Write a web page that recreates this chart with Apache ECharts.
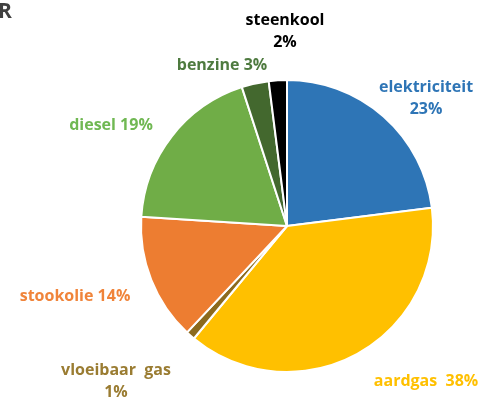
<!DOCTYPE html>
<html>
<head>
<meta charset="utf-8">
<script src="https://cdn.jsdelivr.net/npm/echarts@6/dist/echarts.min.js"></script>
<style>
  html, body { margin: 0; padding: 0; background: #fff; }
  #chart { width: 486px; height: 403px; }
</style>
</head>
<body>
<div id="chart"></div>
<script>
// energiebronnen, procent
const names = ['elektriciteit', 'aardgas', 'vloeibaar  gas', 'stookolie', 'diesel', 'benzine', 'steenkool'];
const values = [23, 38, 1, 14, 19, 3, 2];

// kleuren van de segmenten en de labels
const colors = ['#2E75B6', '#FFC000', '#8C6A1E', '#ED7D31', '#70AD47', '#43682E', '#000000'];
const labelColors = ['#2E75B6', '#FFC000', '#9A7C32', '#F0843A', '#70B853', '#4E7A3F', '#000000'];
// tekstvorm van het label: 0 = twee regels, 1 = één spatie, 2 = twee spaties
const labelForm = [0, 2, 0, 1, 1, 1, 0];

// handmatig geplaatste labels (midden van het tekstblok), zoals in Excel
const labelSpots = [[426, 98], [426, 381], [116, 381], [75, 296], [111, 125], [222, 65], [285, 31]];

const chart = echarts.init(document.getElementById('chart'));

const formats = ['{b}\n{d}%', '{b} {d}%', '{b}  {d}%'];
const data = names.map(function (n, i) {
    return {
        name: n,
        value: values[i],
        itemStyle: { color: colors[i] },
        label: {
            color: labelColors[i],
            formatter: formats[labelForm[i]]
        }
    };
});

chart.setOption({
    animation: false,
    graphic: [{
        type: 'text',
        left: -2,
        top: 2,
        style: { text: 'R', font: 'bold 21px "Open Sans", sans-serif', fill: '#404040' }
    }],
    series: [{
        type: 'pie',
        center: [287, 226],
        radius: 146,
        startAngle: 90,
        clockwise: true,
        avoidLabelOverlap: false,
        data: data,
        itemStyle: { borderColor: '#fff', borderWidth: 2 },
        label: {
            show: true,
            position: 'outside',
            fontFamily: '"Open Sans", sans-serif',
            fontWeight: 'bold',
            fontSize: 16,
            lineHeight: 22,
            align: 'center',
            overflow: 'none'
        },
        labelLine: { show: false },
        labelLayout: function (params) {
            const p = labelSpots[params.dataIndex];
            return { x: p[0], y: p[1], align: 'center', verticalAlign: 'middle' };
        }
    }]
});
</script>
</body>
</html>
